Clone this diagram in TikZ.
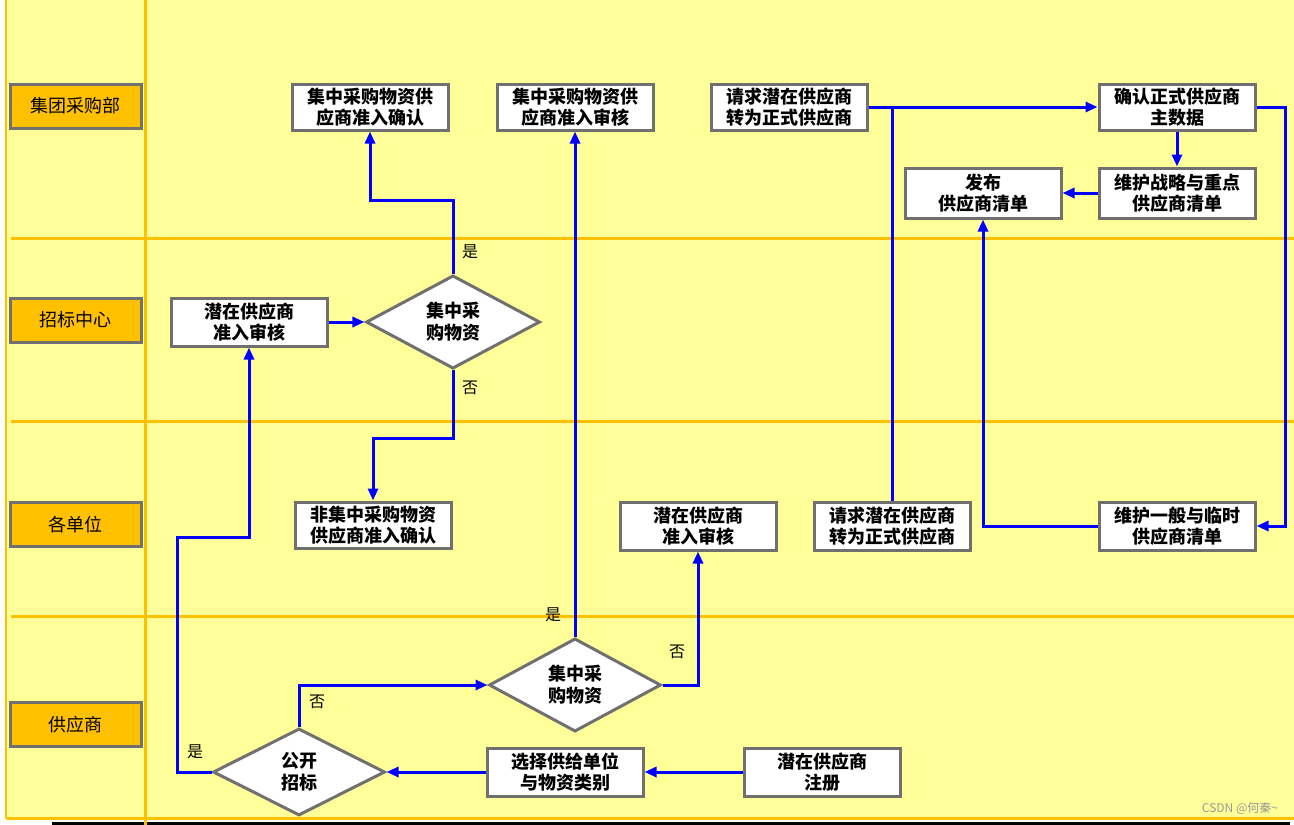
\documentclass[tikz,border=0pt]{standalone}
\usepackage{fontspec}
\usepackage{tikz}
\usetikzlibrary{positioning,arrows.meta,shapes.geometric}
\usepackage{xcolor}
\newfontfamily\cjk{Noto Sans CJK SC}
\definecolor{laneyellow}{HTML}{FFFF99}
\definecolor{laneorange}{HTML}{FFC000}
\definecolor{bordergray}{HTML}{707070}
\definecolor{flowblue}{HTML}{0000FF}

\begin{document}
\begin{tikzpicture}[x=1pt,y=-1pt,
  box/.style={draw=bordergray,line width=3pt,fill=white,minimum width=156pt,minimum height=46pt,inner sep=0pt,align=center,font=\cjk\bfseries\fontsize{18}{21}\selectfont},
  lane/.style={draw=bordergray,line width=3pt,fill=laneorange,minimum width=131pt,minimum height=44pt,inner sep=0pt,font=\cjk\fontsize{18}{21}\selectfont},
  decide/.style={diamond,draw=bordergray,line width=3pt,fill=white,minimum width=174pt,minimum height=88pt,inner sep=0pt,align=center,font=\cjk\bfseries\fontsize{18}{22}\selectfont},
  flow/.style={draw=flowblue,line width=3pt,-{Triangle[length=12pt,width=10pt]}},
  tag/.style={font=\cjk\fontsize{16}{16}\selectfont}]
\useasboundingbox (0,0) rectangle (1294,825);
% swimlanes
\fill[laneyellow] (6,0) rectangle (1294,818);
\draw[laneorange,line width=1.5pt] (6,0) -- (6,818);
\draw[laneorange,line width=3pt] (6,818) -- (1294,818);
\draw[black,line width=3pt] (52,823.5) -- (1290,823.5);
\draw[laneorange,line width=3pt] (145,0) -- (145,825);
\foreach \y in {238,421,616}
  \draw[laneorange,line width=3pt] (11,\y) -- (1294,\y);
\node[lane] (lgroup) at (75.5,106) {集团采购部};
\node[lane] (ltender) at (75.5,320) {招标中心};
\node[lane] (lunit) at (75.5,524.5) {各单位};
\node[lane] (lsupp) at (75.5,724.5) {供应商};

% nodes
\node[box] (conf) at (370,107) {集中采购物资供\\应商准入确认};
\node[box] (audit) at (575,107) {集中采购物资供\\应商准入审核};
\node[box] (req) at (789,107) {请求潜在供应商\\转为正式供应商};
\node[box] (master) at (1177,107) {确认正式供应商\\主数据};
\node[box,minimum height=50pt] (strat) at (1177,193) {维护战略与重点\\供应商清单};
\node[box,minimum height=50pt] (pub) at (983,193) {发布\\供应商清单};
\node[box,minimum height=48pt] (tcaudit) at (249,322) {潜在供应商\\准入审核};
\node[decide] (dec1) at (453,322) {集中采\\购物资};
\node[box] (nonc) at (373,525) {非集中采购物资\\供应商准入确认};
\node[box,minimum height=48pt] (uaudit) at (698,526) {潜在供应商\\准入审核};
\node[box,minimum height=48pt] (ureq) at (892,526) {请求潜在供应商\\转为正式供应商};
\node[box,minimum height=48pt] (general) at (1177,526) {维护一般与临时\\供应商清单};
\node[decide,minimum width=172pt,minimum height=87pt] (dec2) at (575,685) {集中采\\购物资};
\node[decide,minimum width=172pt,minimum height=87pt] (bid) at (299,772) {公开\\招标};
\node[box,minimum height=48pt] (select) at (565,772) {选择供给单位\\与物资类别};
\node[box,minimum height=48pt] (reg) at (822,772) {潜在供应商\\注册};

% flows
\draw[flow] (reg) -- (select);
\draw[flow] (select) -- (bid);
\draw[flow] (bid.west) -- ++(-34,0) |- (179,537) -| (tcaudit.south);
\draw[flow] (bid.north) |- (dec2.west);
\draw[flow] (dec2.north) -- (audit.south);
\draw[flow] (dec2.east) -| (uaudit.south);
\draw[flow] (tcaudit) -- (dec1);
\draw[flow] (dec1.north) -- ++(0,-73) -| (conf.south);
\draw[flow] (dec1.south) -- ++(0,68) -| (nonc.north);
\draw[flow] (req) -- (master);
\draw[draw=flowblue,line width=3pt] (ureq.north) -- (ureq.north |- req.east);
\draw[flow] (master) -- (strat);
\draw[flow] (strat) -- (pub);
\draw[flow] (master.east) -- ++(29,0) |- (general.east);
\draw[flow] (general.west) -| (pub.south);

% labels
\node[tag] (y1) at (470,252) {是};
\node[tag] (n1) at (470,388) {否};
\node[tag] (y2) at (553,615) {是};
\node[tag] (n2) at (677,652) {否};
\node[tag] (n3) at (317,702) {否};
\node[tag] (y3) at (195,752) {是};
\node[font=\cjk\fontsize{12}{12}\selectfont,text=black!40] (mark) at (1240,808) {CSDN @何秦\textasciitilde};
\end{tikzpicture}
\end{document}
